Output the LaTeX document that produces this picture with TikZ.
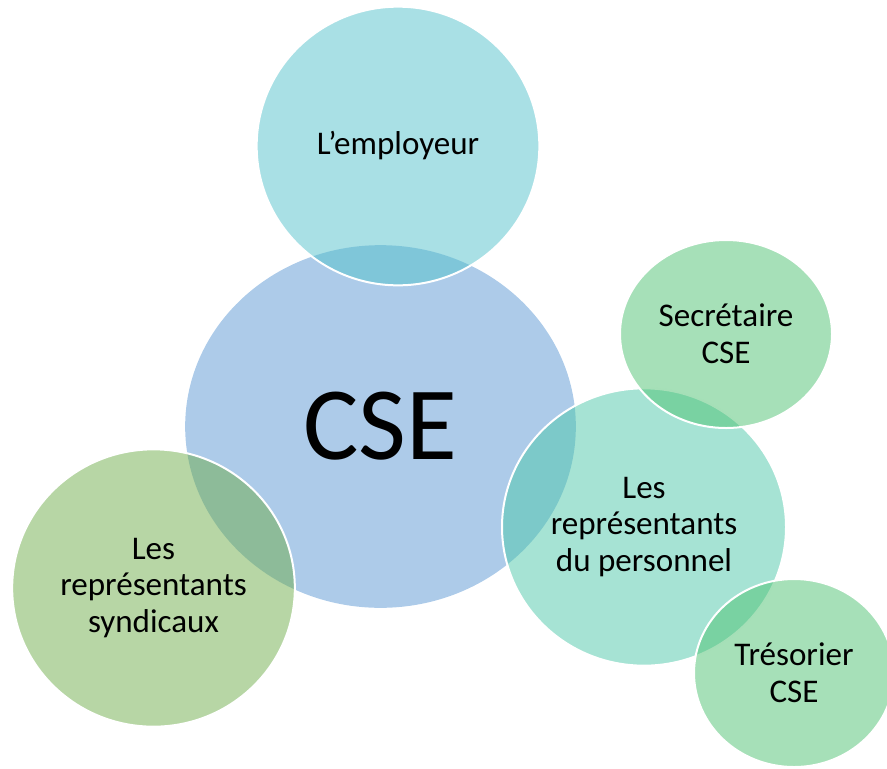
\documentclass[tikz,border=0pt]{standalone}
\usepackage{fontspec}
\setmainfont{Carlito}
\usepackage{tikz}
\usetikzlibrary{shapes.geometric}
\definecolor{cseblue}{RGB}{91,151,211}
\definecolor{csecyan}{RGB}{83,193,203}
\definecolor{csesage}{RGB}{111,173,75}
\definecolor{cseteal}{RGB}{77,199,169}
\definecolor{csegreen}{RGB}{77,193,113}

\begin{document}
\begin{tikzpicture}[
    x=0.75pt, y=-0.75pt,
    bubble/.style={ellipse, inner sep=0pt, fill opacity=0.5, text opacity=1, draw=white, draw opacity=1, line width=1.5pt, align=center, font=\fontsize{24.8}{27.5}\selectfont},
    big/.style={bubble, minimum width=212pt, minimum height=209pt},
    small/.style={bubble, fill=csegreen, minimum width=159pt, minimum height=141pt}
]
    \useasboundingbox (0,0) rectangle (887,768);

    % Central committee
    \node[bubble, draw=none, fill=cseblue, minimum width=293pt, minimum height=272pt, font=\fontsize{78}{88}\selectfont] (cse) at (380.5,426.5) {CSE};

    % Members
    \node[big, fill=csecyan, minimum height=209pt] (employeur) at (398,146) {L’employeur};
    \node[big, fill=csesage, minimum height=208pt] (syndicaux) at (153.5,588) {Les\\représentants\\syndicaux};
    \node[big, fill=cseteal, minimum width=213pt, minimum height=208pt] (personnel) at (644,527) {Les\\représentants\\du personnel};

    % Officers
    \node[small] (secretaire) at (726,334) {Secrétaire\\CSE};
    \node[small, minimum width=150pt] (tresorier) at (794,673) {Trésorier\\CSE};
\end{tikzpicture}
\end{document}
